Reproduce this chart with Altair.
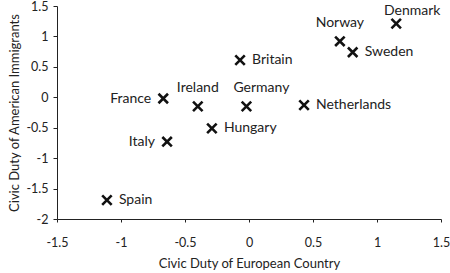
import altair as alt
import pandas as pd

countries = ["Denmark", "Norway", "Sweden", "Britain", "France", "Ireland",
             "Germany", "Netherlands", "Hungary", "Italy", "Spain"]
european_duty = [1.15, 0.71, 0.81, -0.07, -0.67, -0.40, -0.02, 0.43, -0.29, -0.64, -1.11]
immigrant_duty = [1.21, 0.92, 0.74, 0.61, -0.02, -0.15, -0.15, -0.13, -0.51, -0.73, -1.69]
label_side = ["top", "above", "right", "right", "left", "above", "aboveright",
              "right", "right", "left", "right"]
x_ticks = [-1.5, -1, -0.5, 0, 0.5, 1, 1.5]
y_ticks = [-2, -1.5, -1, -0.5, 0, 0.5, 1, 1.5]

df = pd.DataFrame({"country": countries, "x": european_duty,
                   "y": immigrant_duty, "side": label_side})

FONT = "Lato"
x_scale = alt.Scale(domain=[-1.5, 1.5], nice=False)
y_scale = alt.Scale(domain=[-2, 1.5], nice=False)

x_axis = alt.Axis(title="Civic Duty of European Country", values=x_ticks,
                  labelExpr="datum.value", grid=False, domainColor="#222", tickColor="#222",
                  tickSize=3, labelPadding=14, labelFont=FONT, labelFontSize=12.5,
                  labelColor="#222", titleFont=FONT, titleFontSize=13, titleFontWeight="normal",
                  titleColor="#222", titlePadding=9, labelFlush=False, labelOverlap=False)
y_axis = alt.Axis(title="Civic Duty of American Immigrants", values=y_ticks,
                  labelExpr="datum.value", grid=False, domainColor="#222", tickColor="#222",
                  tickSize=4, labelPadding=5, labelFont=FONT, labelFontSize=12.5,
                  labelColor="#222", titleFont=FONT, titleFontSize=13, titleFontWeight="normal",
                  titleColor="#222", titlePadding=4, labelFlush=False, labelOverlap=False)

X = alt.X("x:Q", scale=x_scale, axis=x_axis)
Y = alt.Y("y:Q", scale=y_scale, axis=y_axis)

base = alt.Chart(df)

points = base.mark_point(shape="M-1,-1L1,1M-1,1L1,-1", filled=False, strokeWidth=2.6,
                         size=90, color="#111", opacity=1).encode(x=X, y=Y)

styles = {
    "right": dict(align="left", baseline="middle", dx=12, dy=0),
    "left": dict(align="right", baseline="middle", dx=-12, dy=0),
    "above": dict(align="center", baseline="middle", dx=0, dy=-18),
    "aboveright": dict(align="center", baseline="middle", dx=15, dy=-18),
    "top": dict(align="center", baseline="middle", dx=16, dy=-13),
}

layers = [points]
for side, st in styles.items():
    layers.append(
        base.transform_filter(alt.datum.side == side).mark_text(
            font=FONT, fontSize=14, color="#222", **st
        ).encode(x=X, y=Y, text="country:N")
    )

chart = alt.layer(*layers).properties(
    width=384, height=213,
    padding={"left": 57, "top": 6, "right": 9, "bottom": 54},
    autosize=alt.AutoSizeParams(type="none"),
).configure(background="white").configure_view(stroke=None)

chart.save("out.html", embed_options={"renderer": "svg", "actions": False})
